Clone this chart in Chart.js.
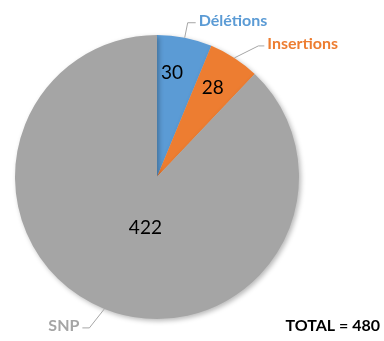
<!DOCTYPE html>
<html>
<head>
<meta charset="utf-8">
<script src="https://cdn.jsdelivr.net/npm/chart.js@4/dist/chart.umd.min.js"></script>
<style>
  html, body { margin: 0; padding: 0; background: #fff; }
  #wrap { width: 384px; height: 341px; }
</style>
</head>
<body>
<div id="wrap"><canvas id="pieChart"></canvas></div>
<script>
var categories = ["Délétions", "Insertions", "SNP"];
var counts = [30, 28, 422];
var sliceColors = ["#5B9BD5", "#ED7D31", "#A5A5A5"];
var totalText = "TOTAL = 480";

// where the numbers sit inside each slice (fraction of radius, angle shift in degrees)
var valuePos = [[0.74, -3], [0.74, -1], [0.37, -9]];
// leader line: elbow offset from slice edge, then horizontal run
var leaders = [
    { elbow: [3, -15], run: 8, align: 'left' },
    { elbow: [24, -12], run: 6, align: 'left' },
    { elbow: [-15, 19], run: -7, align: 'right' }
];

var labelPlugin = {
    id: 'pieLabels',
    beforeDatasetsDraw: function (chart) {
        var ctx = chart.ctx;
        ctx.save();
        ctx.shadowColor = 'rgba(0,0,0,0.28)';
        ctx.shadowBlur = 5;
        ctx.shadowOffsetX = 2;
        ctx.shadowOffsetY = 2;
    },
    afterDatasetsDraw: function (chart) {
        var ctx = chart.ctx;
        ctx.restore();
        var arcs = chart.getDatasetMeta(0).data;
        ctx.save();
        arcs.forEach(function (arc, i) {
            var mid = (arc.startAngle + arc.endAngle) / 2;
            // value inside slice
            var a = mid + valuePos[i][1] * Math.PI / 180;
            var rr = arc.outerRadius * valuePos[i][0];
            ctx.fillStyle = '#000';
            ctx.font = '19px Lato';
            ctx.textAlign = 'center';
            ctx.textBaseline = 'middle';
            ctx.fillText(counts[i], arc.x + Math.cos(a) * rr, arc.y + Math.sin(a) * rr);

            // leader line and category name
            var sx = arc.x + Math.cos(mid) * arc.outerRadius;
            var sy = arc.y + Math.sin(mid) * arc.outerRadius;
            var L = leaders[i];
            var ex = sx + L.elbow[0], ey = sy + L.elbow[1];
            ctx.strokeStyle = '#A6A6A6';
            ctx.lineWidth = 1;
            ctx.beginPath();
            ctx.moveTo(sx, sy);
            ctx.lineTo(ex, ey);
            ctx.lineTo(ex + L.run, ey);
            ctx.stroke();
            ctx.fillStyle = sliceColors[i];
            ctx.font = 'bold 16px Lato';
            ctx.textAlign = L.align;
            ctx.fillText(categories[i], ex + L.run + (L.align === 'left' ? 3 : -3), ey - 2);
        });
        ctx.fillStyle = '#000';
        ctx.font = 'bold 16px Lato';
        ctx.textAlign = 'right';
        ctx.textBaseline = 'middle';
        ctx.fillText(totalText, chart.width - 4, chart.height - 15);
        ctx.restore();
    }
};

var ctxP = document.getElementById("pieChart").getContext('2d');
var myPieChart = new Chart(ctxP, {
    type: 'pie',
    data: {
        labels: categories,
        datasets: [{
            data: counts,
            backgroundColor: sliceColors,
            borderWidth: 0
        }]
    },
    options: {
        responsive: true,
        maintainAspectRatio: false,
        animation: false,
        layout: { padding: { left: 15, right: 85, top: 35, bottom: 22 } },
        plugins: {
            legend: { display: false },
            tooltip: { enabled: false }
        }
    },
    plugins: [labelPlugin]
});
</script>
</body>
</html>
